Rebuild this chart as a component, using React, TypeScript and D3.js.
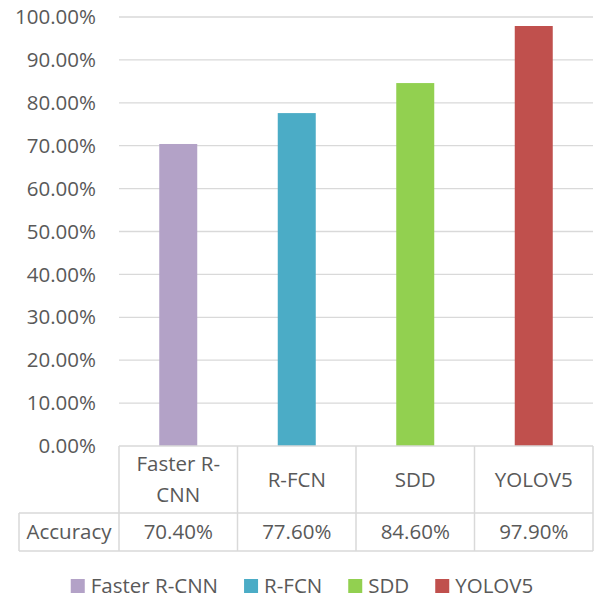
import { useRef, useEffect } from "react"
import * as d3 from "d3"

const categories = ["Faster R-CNN", "R-FCN", "SDD", "YOLOV5"]
const headerLines = [["Faster R-", "CNN"], ["R-FCN"], ["SDD"], ["YOLOV5"]]
const accuracy = [70.4, 77.6, 84.6, 97.9]
const colors = ["#b3a2c7", "#4bacc6", "#92d050", "#c0504d"]
const yTicks = [0, 10, 20, 30, 40, 50, 60, 70, 80, 90, 100]
const rowLabel = "Accuracy"

export default function App() {
  const svgRef = useRef<SVGSVGElement>(null)

  function drawChart() {
    const width = 594
    const height = 599
    const plotLeft = 119
    const plotRight = 593
    const plotTop = 17
    const plotBottom = 446
    const headerBottom = 513
    const rowBottom = 551
    const rowLabelLeft = 19
    const legendY = 586
    const fontSize = "20.5px"
    const fontFamily = "'Open Sans', 'Liberation Sans', sans-serif"
    const textColor = "#595959"
    const lineColor = "#d9d9d9"

    const svg = d3
      .select(svgRef.current)
      .attr("width", width)
      .attr("height", height)
      .style("position", "absolute")
      .style("left", "0px")
      .style("top", "0px")
    svg.selectAll("*").remove()

    const x = d3.scaleBand().domain(categories).range([plotLeft, plotRight]).padding(0)
    const y = d3.scaleLinear().domain([0, 100]).range([plotBottom, plotTop])

    // gridlines
    svg
      .append("g")
      .selectAll("line")
      .data(yTicks.filter((d) => d > 0))
      .enter()
      .append("line")
      .attr("x1", plotLeft)
      .attr("x2", plotRight)
      .attr("y1", (d) => y(d))
      .attr("y2", (d) => y(d))
      .attr("stroke", lineColor)
      .attr("stroke-width", 1.3)

    // y labels
    svg
      .append("g")
      .selectAll("text")
      .data(yTicks)
      .enter()
      .append("text")
      .text((d) => d.toFixed(2) + "%")
      .attr("x", 96)
      .attr("y", (d) => y(d))
      .attr("dy", "0.35em")
      .attr("text-anchor", "end")
      .style("font-size", fontSize)
      .style("font-family", fontFamily)
      .attr("fill", textColor)

    // bars
    const barWidth = 38
    svg
      .append("g")
      .selectAll("rect")
      .data(accuracy)
      .enter()
      .append("rect")
      .attr("x", (d, i) => x(categories[i])! + x.bandwidth() / 2 - barWidth / 2)
      .attr("width", barWidth)
      .attr("y", (d) => y(d))
      .attr("height", (d) => y(0) - y(d))
      .attr("fill", (d, i) => colors[i])

    // data table
    const table = svg.append("g").attr("fill", "none").attr("stroke", lineColor).attr("stroke-width", 1.5)
    const hLine = (x1: number, x2: number, yy: number) =>
      table.append("line").attr("x1", x1).attr("x2", x2).attr("y1", yy).attr("y2", yy)
    const vLine = (xx: number, y1: number, y2: number) =>
      table.append("line").attr("x1", xx).attr("x2", xx).attr("y1", y1).attr("y2", y2)
    hLine(plotLeft, plotRight, plotBottom)
    hLine(rowLabelLeft, plotRight, headerBottom)
    hLine(rowLabelLeft, plotRight, rowBottom)
    vLine(rowLabelLeft, headerBottom, rowBottom)
    categories.forEach((c) => vLine(x(c)!, plotBottom, rowBottom))
    vLine(plotRight, plotBottom, rowBottom)

    const header = svg.append("g")
    headerLines.forEach((lines, i) => {
      const cx = x(categories[i])! + x.bandwidth() / 2
      const cy = (plotBottom + headerBottom) / 2
      const lh = 31
      lines.forEach((ln, j) => {
        header
          .append("text")
          .text(ln)
          .attr("x", cx)
          .attr("y", cy + (j - (lines.length - 1) / 2) * lh)
          .attr("dy", "0.35em")
          .attr("text-anchor", "middle")
          .style("font-size", fontSize)
          .style("font-family", fontFamily)
          .attr("fill", textColor)
      })
    })

    const rowY = (headerBottom + rowBottom) / 2
    svg
      .append("text")
      .text(rowLabel)
      .attr("x", (rowLabelLeft + plotLeft) / 2)
      .attr("y", rowY)
      .attr("dy", "0.35em")
      .attr("text-anchor", "middle")
      .style("font-size", fontSize)
      .style("font-family", fontFamily)
      .attr("fill", textColor)

    svg
      .append("g")
      .selectAll("text")
      .data(accuracy)
      .enter()
      .append("text")
      .text((d) => d.toFixed(2) + "%")
      .attr("x", (d, i) => x(categories[i])! + x.bandwidth() / 2)
      .attr("y", rowY)
      .attr("dy", "0.35em")
      .attr("text-anchor", "middle")
      .style("font-size", fontSize)
      .style("font-family", fontFamily)
      .attr("fill", textColor)

    // legend
    const legend = svg.append("g")
    const sq = 14
    const gapText = 6
    const gapItem = 26
    const items = categories.map((c, i) => {
      const g = legend.append("g")
      g.append("rect").attr("width", sq).attr("height", sq).attr("y", legendY - sq / 2).attr("fill", colors[i])
      const t = g
        .append("text")
        .text(c)
        .attr("x", sq + gapText)
        .attr("y", legendY)
        .attr("dy", "0.35em")
        .style("font-size", fontSize)
        .style("font-family", fontFamily)
        .attr("fill", textColor)
      const w = (t.node() as SVGTextElement).getComputedTextLength()
      return { g, w: sq + gapText + w }
    })
    const total = d3.sum(items, (d) => d.w) + gapItem * (items.length - 1)
    let cur = 302 - total / 2
    items.forEach((it) => {
      it.g.attr("transform", `translate(${cur},0)`)
      cur += it.w + gapItem
    })
  }

  useEffect(() => {
    drawChart()
  }, [svgRef])

  return (
    <div>
      <svg ref={svgRef}></svg>
    </div>
  )
}
